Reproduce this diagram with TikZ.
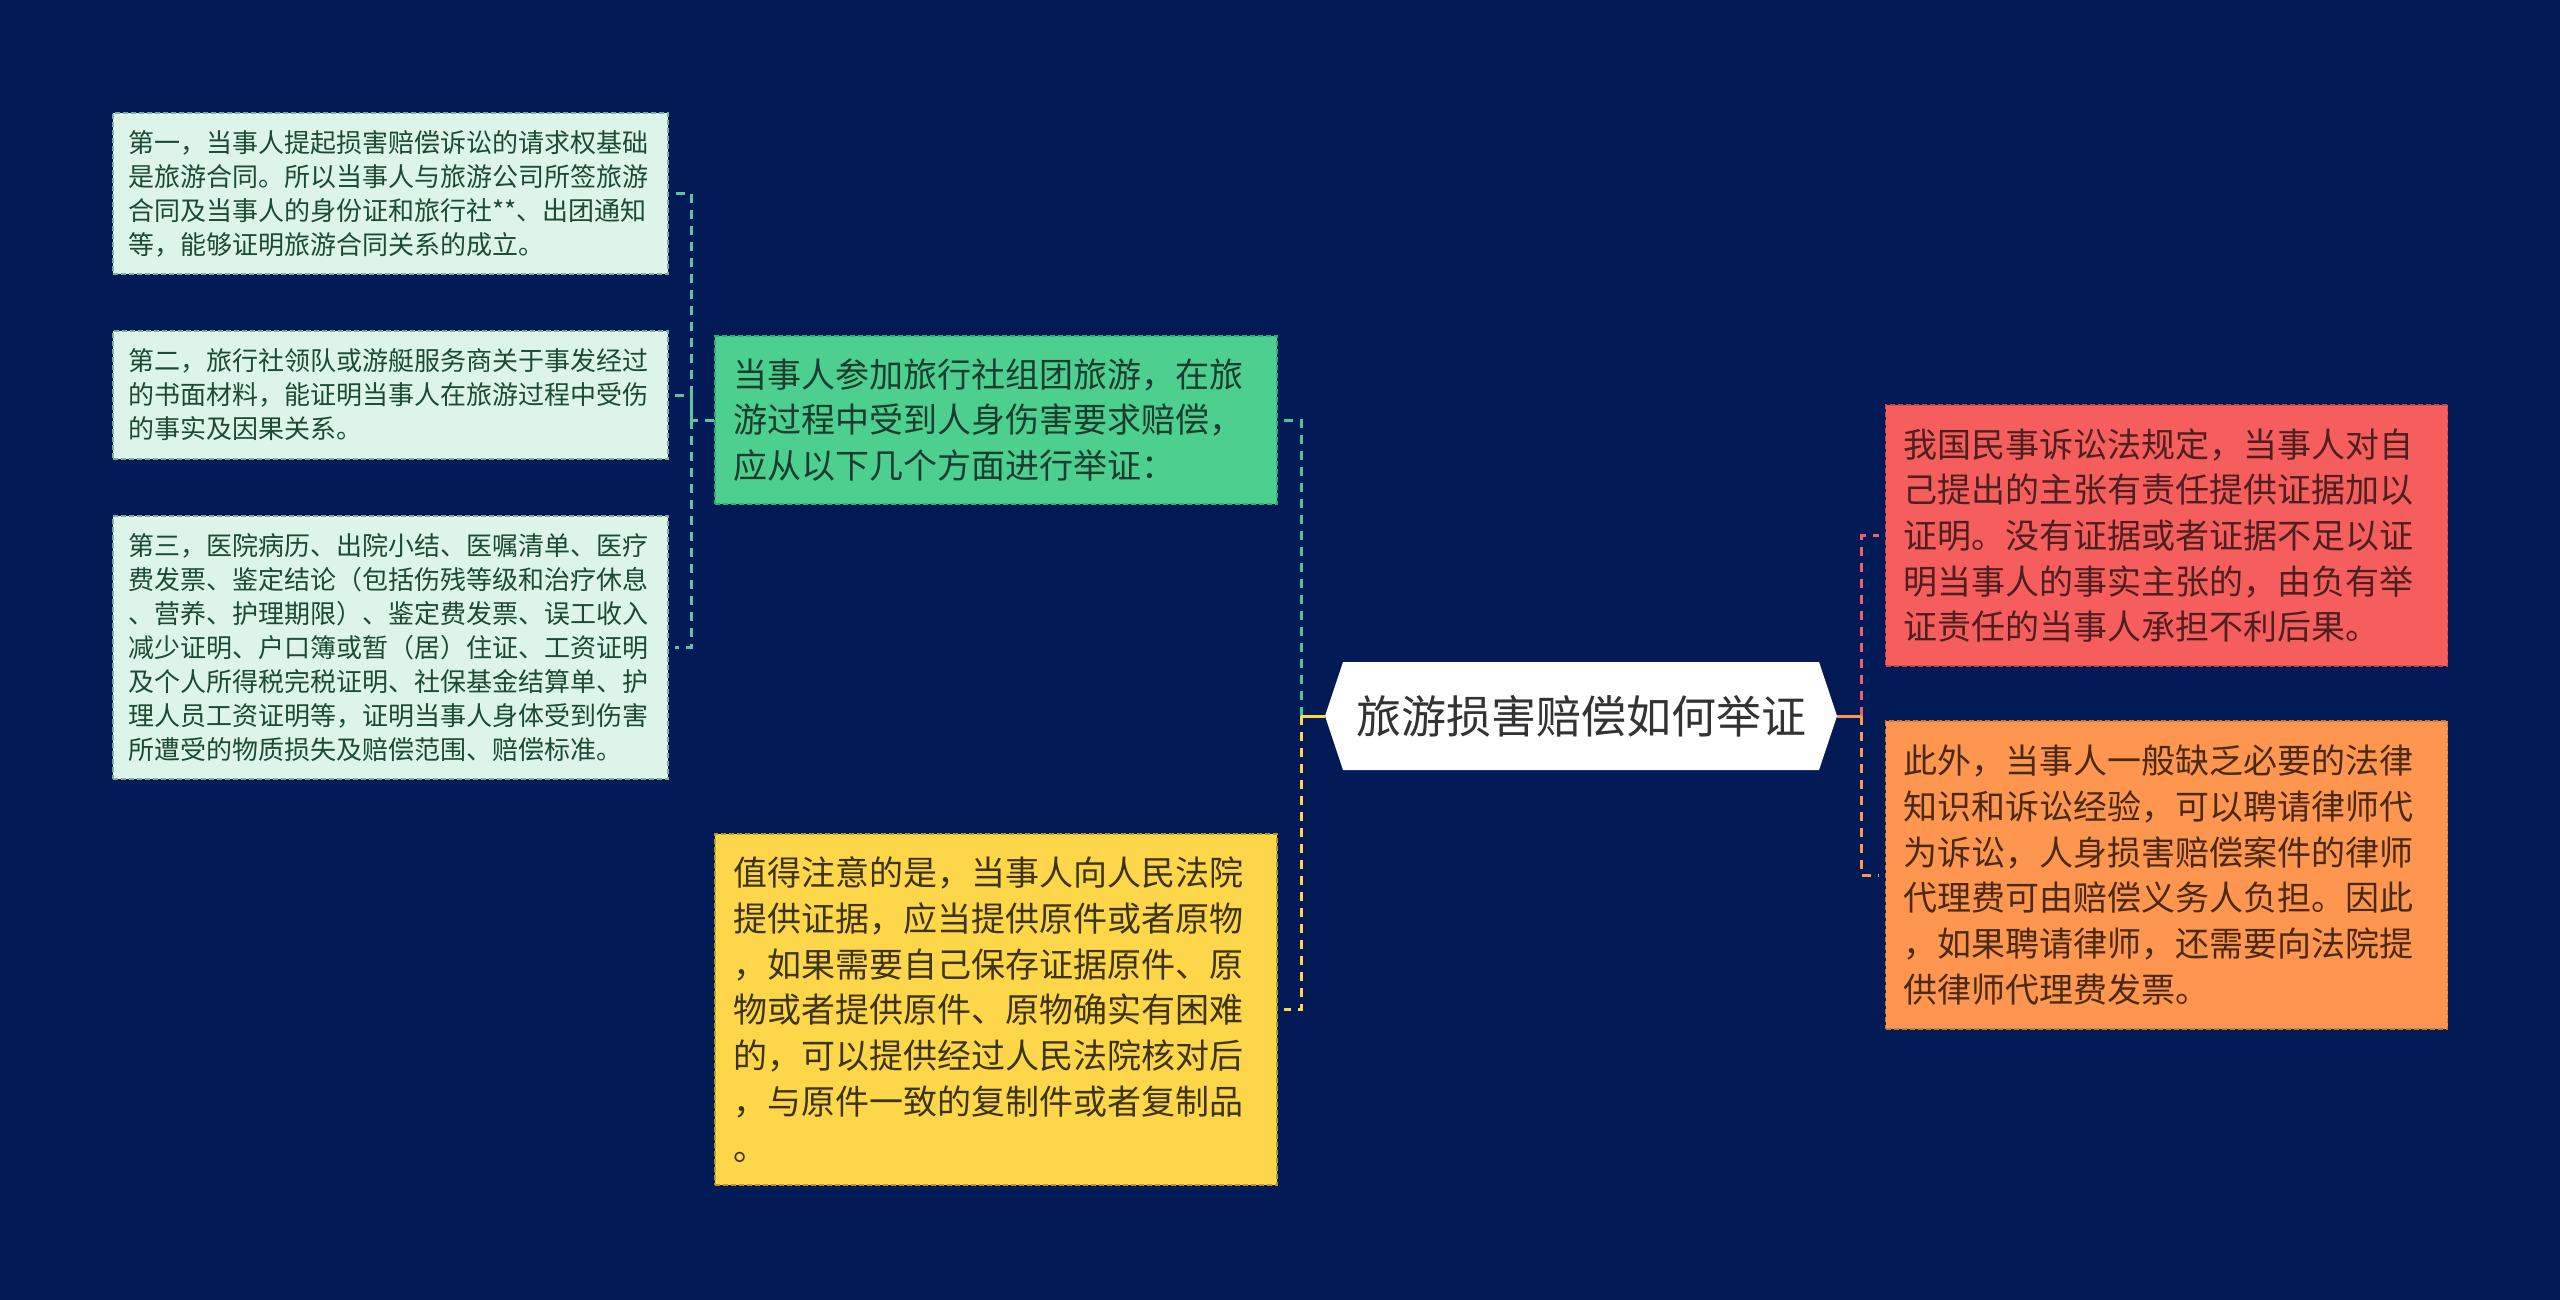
\documentclass[tikz,border=0pt]{standalone}
\usepackage{fontspec}
\setmainfont{Noto Sans CJK SC}
\definecolor{bg}{HTML}{021A55}
\definecolor{mintfill}{HTML}{DDF5E9}
\definecolor{mintdraw}{HTML}{7FAE98}
\definecolor{minttext}{HTML}{1D4A33}
\definecolor{greenfill}{HTML}{4CCF8F}
\definecolor{greendraw}{HTML}{36A673}
\definecolor{greentext}{HTML}{1A3D2E}
\definecolor{yellowfill}{HTML}{FDD64A}
\definecolor{yellowdraw}{HTML}{B8962A}
\definecolor{yellowtext}{HTML}{3D3413}
\definecolor{redfill}{HTML}{F65E5E}
\definecolor{reddraw}{HTML}{C94848}
\definecolor{redtext}{HTML}{4D1F1F}
\definecolor{orangefill}{HTML}{FE9650}
\definecolor{orangedraw}{HTML}{C9763A}
\definecolor{orangetext}{HTML}{4A2A14}
\definecolor{tealline}{HTML}{5CC4A0}
\definecolor{greenline}{HTML}{45C897}
\definecolor{yellowline}{HTML}{FDD64A}
\definecolor{redline}{HTML}{F0606A}
\definecolor{orangeline}{HTML}{FE9650}
\tikzset{
  smallbox/.style={rectangle, draw=mintdraw, fill=mintfill, dashed, dash pattern=on 5pt off 3pt, line width=1.5pt,
    align=left, text width=525pt, inner xsep=15pt, inner ysep=0pt, minimum height=#1,
    text=minttext, font=\fontsize{26}{34}\selectfont},
  bigbox/.style={rectangle, dashed, dash pattern=on 5pt off 3pt, line width=1.5pt,
    align=left, text width=526pt, inner xsep=18pt, inner ysep=0pt, minimum height=#1,
    font=\fontsize{34}{45.7}\selectfont},
  rootbox/.style={rectangle, inner sep=0pt, minimum width=512pt, minimum height=108pt,
    text=black!80, font=\fontsize{45}{54}\selectfont},
  conn/.style={line width=3pt, dash pattern=on 9pt off 7pt},
  stub/.style={line width=3pt}
}
\begin{document}
\begin{tikzpicture}[x=1pt,y=-1pt]
\fill[bg] (0,0) rectangle (2560,1300);
\useasboundingbox (0,0) rectangle (2560,1300);

% root hexagon
\fill[white] (1325,716) -- (1343,662) -- (1819,662) -- (1837,716) -- (1819,770) -- (1343,770) -- cycle;
\node[rootbox] (root) at (1581,716) {旅游损害赔偿如何举证};

% left small boxes
\node[smallbox=161pt] (b1) at (390.5,193.5) {第一，当事人提起损害赔偿诉讼的请求权基础\\是旅游合同。所以当事人与旅游公司所签旅游\\合同及当事人的身份证和旅行社**、出团通知\\等，能够证明旅游合同关系的成立。};
\node[smallbox=128pt] (b2) at (390.5,395) {第二，旅行社领队或游艇服务商关于事发经过\\的书面材料，能证明当事人在旅游过程中受伤\\的事实及因果关系。};
\node[smallbox=263pt] (b3) at (390.5,647.5) {第三，医院病历、出院小结、医嘱清单、医疗\\费发票、鉴定结论（包括伤残等级和治疗休息\\、营养、护理期限）、鉴定费发票、误工收入\\减少证明、户口簿或暂（居）住证、工资证明\\及个人所得税完税证明、社保基金结算单、护\\理人员工资证明等，证明当事人身体受到伤害\\所遭受的物质损失及赔偿范围、赔偿标准。};

% middle boxes
\node[bigbox=168pt, draw=greendraw, fill=greenfill, text=greentext] (green) at (996,420) {当事人参加旅行社组团旅游，在旅\\游过程中受到人身伤害要求赔偿，\\应从以下几个方面进行举证：};
\node[bigbox=351pt, draw=yellowdraw, fill=yellowfill, text=yellowtext] (yellow) at (996,1009.5) {值得注意的是，当事人向人民法院\\提供证据，应当提供原件或者原物\\，如果需要自己保存证据原件、原\\物或者提供原件、原物确实有困难\\的，可以提供经过人民法院核对后\\，与原件一致的复制件或者复制品\\。};

% right boxes
\node[bigbox=261pt, draw=reddraw, fill=redfill, text=redtext] (red) at (2166.5,535.5) {我国民事诉讼法规定，当事人对自\\己提出的主张有责任提供证据加以\\证明。没有证据或者证据不足以证\\明当事人的事实主张的，由负有举\\证责任的当事人承担不利后果。};
\node[bigbox=308pt, draw=orangedraw, fill=orangefill, text=orangetext] (orange) at (2166.5,875) {此外，当事人一般缺乏必要的法律\\知识和诉讼经验，可以聘请律师代\\为诉讼，人身损害赔偿案件的律师\\代理费可由赔偿义务人负担。因此\\，如果聘请律师，还需要向法院提\\供律师代理费发票。};

% junction points
\coordinate (jl) at (1301,716);
\coordinate (jr) at (1861,716);
\coordinate (jg) at (691,420);

% connectors root -> middle
\draw[conn, greenline] (jl) |- ([xshift=6pt]green.east);
\draw[conn, yellowline] (jl) |- ([xshift=6pt]yellow.east);
\draw[stub, yellowline] (root.west) -- (jl);

% connectors root -> right
\draw[conn, redline] (jr) |- ([xshift=-6pt]red.west);
\draw[conn, orangeline] (jr) |- ([xshift=-6pt]orange.west);
\draw[stub, orangeline] (root.east) -- (jr);

% connectors green -> small
\draw[conn, tealline] (green.west) -- (jg) |- ([xshift=6pt]b1.east);
\draw[conn, tealline] (jg) |- ([xshift=6pt]b2.east);
\draw[conn, tealline] (jg) |- ([xshift=6pt]b3.east);
\end{tikzpicture}
\end{document}
